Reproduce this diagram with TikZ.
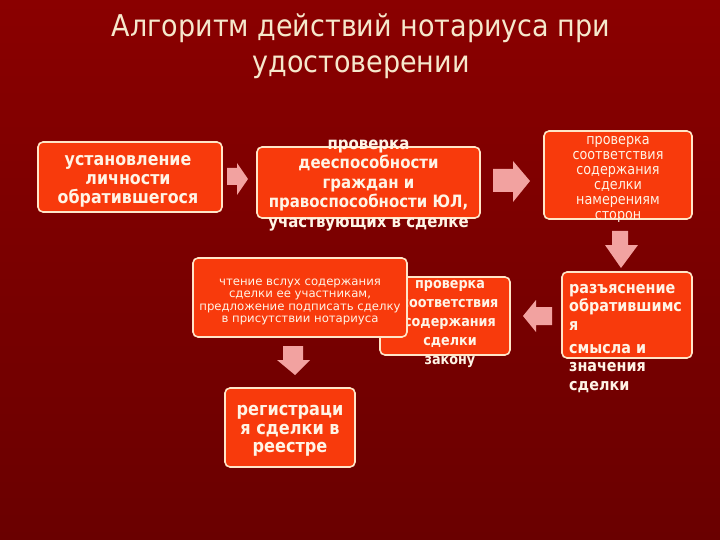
\documentclass[tikz,border=0pt]{standalone}
\usepackage{fontspec}
\setmainfont{DejaVu Sans}
\newfontfamily\boxfont[FakeStretch=0.88]{DejaVu Sans}
\newfontfamily\smallfont{DejaVu Sans}
\newfontfamily\titlefont[FakeStretch=0.9]{DejaVu Sans}
\definecolor{bgtop}{HTML}{8A0000}
\definecolor{bgbot}{HTML}{6A0000}
\definecolor{boxfill}{HTML}{F83A0C}
\definecolor{boxline}{HTML}{FFE6C8}
\definecolor{txt}{HTML}{FFF4E6}
\definecolor{titletxt}{HTML}{F6E8CC}
\definecolor{arrowpink}{HTML}{F2A2A0}
\tikzset{
  stepbox/.style={draw=boxline, line width=1.6pt, fill=boxfill, rounded corners=5pt, inner sep=0pt},
  steptext/.style={text=txt, align=center, inner sep=0pt, font=\boxfont\bfseries\fontsize{14}{19.5}\selectfont},
  titletext/.style={text=titletxt, font=\titlefont\fontsize{30}{36}\selectfont, inner sep=0pt, anchor=base},
  blockarrow/.style={fill=arrowpink, draw=none}
}
\begin{document}
\begin{tikzpicture}[x=1pt,y=-1pt]
\shade[top color=bgtop, bottom color=bgbot] (0,0) rectangle (720,540);
\useasboundingbox (0,0) rectangle (720,540);
% title
\node[titletext] (t1) at (361,37) {Алгоритм действий нотариуса при};
\node[titletext] (t2) at (361,73) {удостоверении};
% block arrows
\fill[blockarrow] (227,168) -- (237,168) -- (237,163) -- (248,179) -- (237,195) -- (237,185) -- (227,185) -- cycle;
\fill[blockarrow] (493,169) -- (513,169) -- (513,161) -- (530,181) -- (513,202) -- (513,192) -- (493,192) -- cycle;
\fill[blockarrow] (612,231) -- (628,231) -- (628,245) -- (638,245) -- (621,268) -- (605,245) -- (612,245) -- cycle;
\fill[blockarrow] (552,307) -- (536,307) -- (536,300) -- (523,316) -- (536,332) -- (536,325) -- (552,325) -- cycle;
\fill[blockarrow] (283,346) -- (303,346) -- (303,360) -- (310,360) -- (295,375) -- (277,360) -- (283,360) -- cycle;
% box 1
\node[stepbox, minimum width=184pt, minimum height=70pt] (b1) at (130,177) {};
\node[steptext, font=\boxfont\bfseries\fontsize{18}{19}\selectfont] (b1t) at (128,181) {установление\\личности\\обратившегося};
% box 2
\node[stepbox, minimum width=223pt, minimum height=71pt] (b2) at (368.5,182.5) {};
\node[steptext, font=\boxfont\bfseries\fontsize{17}{19.5}\selectfont] (b2t) at (368.5,185.5) {проверка\\дееспособности\\граждан и\\правоспособности ЮЛ,\\участвующих в сделке};
% box 3
\node[stepbox, minimum width=148pt, minimum height=88pt] (b3) at (618,175) {};
\node[steptext, font=\boxfont\fontsize{14.5}{15}\selectfont] (b3t) at (618,179) {проверка\\соответствия\\содержания\\сделки\\намерениям\\сторон};
% box 6
\node[stepbox, minimum width=130pt, minimum height=86pt] (b6) at (627,315) {};
\node[steptext, align=left, anchor=north west, font=\boxfont\bfseries\fontsize{16.3}{18.5}\selectfont] (b6t) at (569,284) {разъяснение\\обратившимс\\я\\[4.5pt]смысла и\\значения\\сделки};
% box 4
\node[stepbox, minimum width=130pt, minimum height=78pt] (b4) at (445,316) {};
\node[steptext, font=\boxfont\bfseries\fontsize{14.5}{19}\selectfont] (b4t) at (450,324) {проверка\\соответствия\\содержания\\сделки\\закону};
% box 5
\node[stepbox, minimum width=214pt, minimum height=79pt] (b5) at (300,297.5) {};
\node[steptext, font=\smallfont\fontsize{11.7}{12.3}\selectfont] (b5t) at (300,302) {чтение вслух содержания\\сделки ее участникам,\\предложение подписать сделку\\в присутствии нотариуса};
% box 7
\node[stepbox, minimum width=130pt, minimum height=79pt] (b7) at (290,427.5) {};
\node[steptext, font=\boxfont\bfseries\fontsize{18.3}{18.5}\selectfont] (b7t) at (290,431) {регистраци\\я сделки в\\реестре};
\end{tikzpicture}
\end{document}
